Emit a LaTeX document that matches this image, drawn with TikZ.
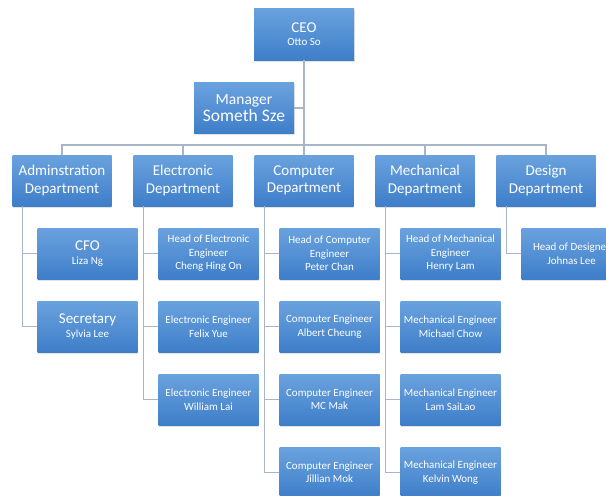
\documentclass[tikz,border=0pt]{standalone}
\usepackage{fontspec}
\setmainfont{Carlito}
\usetikzlibrary{calc,shadows}

\definecolor{boxtop}{RGB}{106,162,222}
\definecolor{boxbot}{RGB}{62,126,201}
\definecolor{linkcol}{RGB}{168,181,200}

\tikzset{
  orgbox/.style={draw=none, top color=boxtop, bottom color=boxbot,
    text=white, align=center, inner sep=0pt,
    drop shadow={opacity=0.22, shadow xshift=0.6pt, shadow yshift=-1.6pt}},
  bigbox/.style={orgbox, minimum width=100pt, minimum height=52pt},
  deptbox/.style={orgbox, minimum width=99pt, minimum height=51pt,
    font=\fontsize{15}{17.5}\selectfont},
  staffbox/.style={orgbox, minimum width=100pt, minimum height=51pt,
    font=\fontsize{11}{13.5}\selectfont},
  link/.style={draw=linkcol, line width=1.3pt},
}
\newcommand{\bigline}[1]{{\fontsize{15}{17}\selectfont #1}}
\newcommand{\smallline}[1]{{\fontsize{11}{13}\selectfont #1}}

\begin{document}
\begin{tikzpicture}[x=1pt,y=-1pt]
\path[use as bounding box, fill=white] (0,0) rectangle (606,496);
\clip (0,0) rectangle (606,496);

% top management
\node[bigbox] (ceo) at (304,34) {\bigline{CEO}\\[1pt]\smallline{Otto So}};
\node[bigbox, minimum height=51pt] (mgr) at (244,108)
  {{\fontsize{15.5}{18}\selectfont Manager}\\[1pt]{\fontsize{17.5}{19}\selectfont Someth Sze}};

% departments
\node[deptbox] (admin) at (62,180.5)  {Adminstration\\Department};
\node[deptbox] (elec)  at (183,180.5) {Electronic\\Department};
\node[deptbox] (comp)  at (304,180.5) {Computer\\Department};
\node[deptbox] (mech)  at (425,180.5) {Mechanical\\Department};
\node[deptbox] (desg)  at (546,180.5) {Design\\Department};

% administration staff
\node[staffbox] (ad1) at (87.5,253.5) {\bigline{CFO}\\[1pt]\smallline{Liza Ng}};
\node[staffbox] (ad2) at (87.5,326.5) {\bigline{Secretary}\\[1pt]\smallline{Sylvia Lee}};

% electronic staff
\node[staffbox] (el1) at (208.5,253.5) {Head of Electronic\\Engineer\\Cheng Hing On};
\node[staffbox] (el2) at (208.5,326.5) {Electronic Engineer\\Felix Yue};
\node[staffbox] (el3) at (208.5,399.5) {Electronic Engineer\\William Lai};

% computer staff
\node[staffbox] (co1) at (329.5,253.5) {Head of Computer\\Engineer\\Peter Chan};
\node[staffbox] (co2) at (329.5,326.5) {Computer Engineer\\Albert Cheung};
\node[staffbox] (co3) at (329.5,399.5) {Computer Engineer\\MC Mak};
\node[staffbox] (co4) at (329.5,472.5) {Computer Engineer\\Jillian Mok};

% mechanical staff
\node[staffbox] (me1) at (450.5,253.5) {Head of Mechanical\\Engineer\\Henry Lam};
\node[staffbox] (me2) at (450.5,326.5) {Mechanical Engineer\\Michael Chow};
\node[staffbox] (me3) at (450.5,399.5) {Mechanical Engineer\\Lam SaiLao};
\node[staffbox] (me4) at (450.5,472.5) {Mechanical Engineer\\Kelvin Wong};

% design staff (box runs past the right edge)
\node[staffbox] (de1) at (571.5,253.5) {Head of Designer\\Johnas Lee};

% connectors
\coordinate (bus) at (0,145);

\draw[link] (ceo.south) |- (mgr.east);
\draw[link] (ceo.south) -- (ceo.south |- bus);
\draw[link] (admin.north) -- (admin.north |- bus) -| (desg.north);
\draw[link] (elec.north) -- (elec.north |- bus);
\draw[link] (comp.north) -- (comp.north |- bus);
\draw[link] (mech.north) -- (mech.north |- bus);

\coordinate (adS) at ($(admin.south west)+(10.5,0)$);
\coordinate (elS) at ($(elec.south west)+(10.5,0)$);
\coordinate (coS) at ($(comp.south west)+(10.5,0)$);
\coordinate (meS) at ($(mech.south west)+(10.5,0)$);
\coordinate (deS) at ($(desg.south west)+(10.5,0)$);

\foreach \c in {ad1,ad2} \draw[link] (\c.west) -| (adS);
\foreach \c in {el1,el2,el3} \draw[link] (\c.west) -| (elS);
\foreach \c in {co1,co2,co3,co4} \draw[link] (\c.west) -| (coS);
\foreach \c in {me1,me2,me3,me4} \draw[link] (\c.west) -| (meS);
\draw[link] (de1.west) -| (deS);
\end{tikzpicture}
\end{document}
